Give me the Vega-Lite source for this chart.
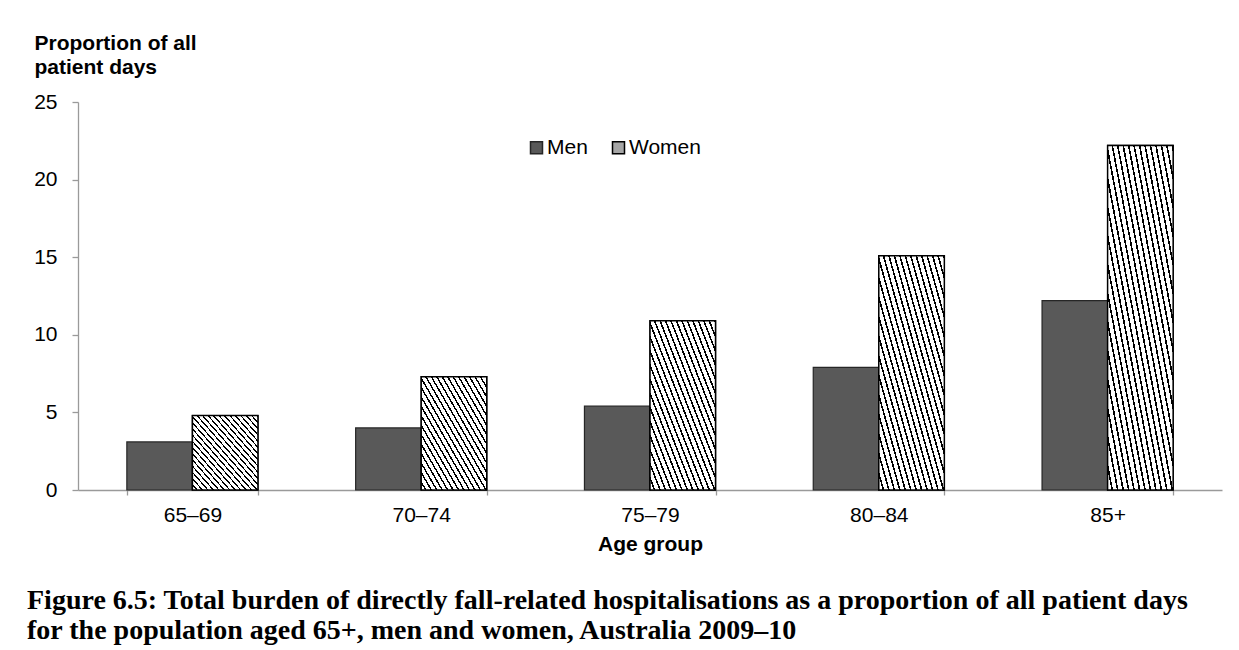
{
  "$schema": "https://vega.github.io/schema/vega-lite/v6.json",
  "width": 1144,
  "height": 388,
  "autosize": {"type": "none"},
  "padding": {"left": 78, "top": 102, "right": 17, "bottom": 160},
  "background": "white",
  "data": {
    "values": [
      {"age": "65–69", "sex": "Men", "value": 3.1},
      {"age": "65–69", "sex": "Women", "value": 4.8},
      {"age": "70–74", "sex": "Men", "value": 4.0},
      {"age": "70–74", "sex": "Women", "value": 7.3},
      {"age": "75–79", "sex": "Men", "value": 5.4},
      {"age": "75–79", "sex": "Women", "value": 10.9},
      {"age": "80–84", "sex": "Men", "value": 7.9},
      {"age": "80–84", "sex": "Women", "value": 15.1},
      {"age": "85+", "sex": "Men", "value": 12.2},
      {"age": "85+", "sex": "Women", "value": 22.2}
    ]
  },
  "title": {
    "text": [
      "Figure 6.5: Total burden of directly fall-related hospitalisations as a proportion of all patient days",
      "for the population aged 65+, men and women, Australia 2009–10"
    ],
    "orient": "bottom",
    "anchor": "start",
    "frame": "group",
    "dx": -51,
    "offset": 33,
    "font": "Liberation Serif",
    "fontSize": 28,
    "fontWeight": "bold",
    "lineHeight": 30,
    "color": "#000000"
  },
  "encoding": {
    "x": {
      "field": "age",
      "type": "nominal",
      "sort": null,
      "scale": {"paddingInner": 0.427, "paddingOuter": 0.2135},
      "axis": {
        "title": "Age group",
        "labelAngle": 0,
        "tickBand": "extent",
        "tickSize": 5,
        "labelPadding": 9,
        "titlePadding": 8
      }
    },
    "xOffset": {
      "field": "sex",
      "type": "nominal",
      "sort": ["Men", "Women"],
      "scale": {"domain": ["Men", "Women"], "paddingInner": 0, "paddingOuter": 0}
    },
    "y": {
      "field": "value",
      "type": "quantitative",
      "scale": {"domain": [0, 25], "nice": false},
      "axis": {
        "values": [0, 5, 10, 15, 20, 25],
        "title": ["Proportion of all", "patient days"],
        "titleAngle": 0,
        "titleAlign": "left",
        "titleBaseline": "alphabetic",
        "titleX": -44,
        "titleY": -53,
        "titleLineHeight": 24,
        "tickSize": 6,
        "labelPadding": 15,
        "grid": false
      }
    }
  },
  "layer": [
    {
      "mark": {"type": "bar", "strokeWidth": 1.2},
      "encoding": {
        "fill": {
          "field": "sex",
          "type": "nominal",
          "scale": {"domain": ["Men", "Women"], "range": ["#595959", "#a6a6a6"]},
          "legend": {
            "title": null,
            "orient": "none",
            "direction": "horizontal",
            "legendX": 448,
            "legendY": 35
          }
        },
        "stroke": {
          "field": "sex",
          "type": "nominal",
          "scale": {"domain": ["Men", "Women"], "range": ["#262626", "#000000"]},
          "legend": {
            "title": null,
            "orient": "none",
            "direction": "horizontal",
            "legendX": 448,
            "legendY": 35
          }
        }
      }
    },
    {
      "transform": [{"filter": "datum.sex === 'Women'"}],
      "mark": {
        "type": "bar",
        "stroke": "#000000",
        "strokeWidth": 1.5,
        "fill": {
          "gradient": "linear",
          "x1": 1, "y1": 0, "x2": 0, "y2": 1,
          "stops": [
            {"offset": 0, "color": "#000000"}, {"offset": 0.0125, "color": "#000000"}, {"offset": 0.0125, "color": "#ffffff"}, {"offset": 0.041667, "color": "#ffffff"},
            {"offset": 0.041667, "color": "#000000"}, {"offset": 0.054167, "color": "#000000"}, {"offset": 0.054167, "color": "#ffffff"}, {"offset": 0.083333, "color": "#ffffff"},
            {"offset": 0.083333, "color": "#000000"}, {"offset": 0.095833, "color": "#000000"}, {"offset": 0.095833, "color": "#ffffff"}, {"offset": 0.125, "color": "#ffffff"},
            {"offset": 0.125, "color": "#000000"}, {"offset": 0.1375, "color": "#000000"}, {"offset": 0.1375, "color": "#ffffff"}, {"offset": 0.166667, "color": "#ffffff"},
            {"offset": 0.166667, "color": "#000000"}, {"offset": 0.179167, "color": "#000000"}, {"offset": 0.179167, "color": "#ffffff"}, {"offset": 0.208333, "color": "#ffffff"},
            {"offset": 0.208333, "color": "#000000"}, {"offset": 0.220833, "color": "#000000"}, {"offset": 0.220833, "color": "#ffffff"}, {"offset": 0.25, "color": "#ffffff"},
            {"offset": 0.25, "color": "#000000"}, {"offset": 0.2625, "color": "#000000"}, {"offset": 0.2625, "color": "#ffffff"}, {"offset": 0.291667, "color": "#ffffff"},
            {"offset": 0.291667, "color": "#000000"}, {"offset": 0.304167, "color": "#000000"}, {"offset": 0.304167, "color": "#ffffff"}, {"offset": 0.333333, "color": "#ffffff"},
            {"offset": 0.333333, "color": "#000000"}, {"offset": 0.345833, "color": "#000000"}, {"offset": 0.345833, "color": "#ffffff"}, {"offset": 0.375, "color": "#ffffff"},
            {"offset": 0.375, "color": "#000000"}, {"offset": 0.3875, "color": "#000000"}, {"offset": 0.3875, "color": "#ffffff"}, {"offset": 0.416667, "color": "#ffffff"},
            {"offset": 0.416667, "color": "#000000"}, {"offset": 0.429167, "color": "#000000"}, {"offset": 0.429167, "color": "#ffffff"}, {"offset": 0.458333, "color": "#ffffff"},
            {"offset": 0.458333, "color": "#000000"}, {"offset": 0.470833, "color": "#000000"}, {"offset": 0.470833, "color": "#ffffff"}, {"offset": 0.5, "color": "#ffffff"},
            {"offset": 0.5, "color": "#000000"}, {"offset": 0.5125, "color": "#000000"}, {"offset": 0.5125, "color": "#ffffff"}, {"offset": 0.541667, "color": "#ffffff"},
            {"offset": 0.541667, "color": "#000000"}, {"offset": 0.554167, "color": "#000000"}, {"offset": 0.554167, "color": "#ffffff"}, {"offset": 0.583333, "color": "#ffffff"},
            {"offset": 0.583333, "color": "#000000"}, {"offset": 0.595833, "color": "#000000"}, {"offset": 0.595833, "color": "#ffffff"}, {"offset": 0.625, "color": "#ffffff"},
            {"offset": 0.625, "color": "#000000"}, {"offset": 0.6375, "color": "#000000"}, {"offset": 0.6375, "color": "#ffffff"}, {"offset": 0.666667, "color": "#ffffff"},
            {"offset": 0.666667, "color": "#000000"}, {"offset": 0.679167, "color": "#000000"}, {"offset": 0.679167, "color": "#ffffff"}, {"offset": 0.708333, "color": "#ffffff"},
            {"offset": 0.708333, "color": "#000000"}, {"offset": 0.720833, "color": "#000000"}, {"offset": 0.720833, "color": "#ffffff"}, {"offset": 0.75, "color": "#ffffff"},
            {"offset": 0.75, "color": "#000000"}, {"offset": 0.7625, "color": "#000000"}, {"offset": 0.7625, "color": "#ffffff"}, {"offset": 0.791667, "color": "#ffffff"},
            {"offset": 0.791667, "color": "#000000"}, {"offset": 0.804167, "color": "#000000"}, {"offset": 0.804167, "color": "#ffffff"}, {"offset": 0.833333, "color": "#ffffff"},
            {"offset": 0.833333, "color": "#000000"}, {"offset": 0.845833, "color": "#000000"}, {"offset": 0.845833, "color": "#ffffff"}, {"offset": 0.875, "color": "#ffffff"},
            {"offset": 0.875, "color": "#000000"}, {"offset": 0.8875, "color": "#000000"}, {"offset": 0.8875, "color": "#ffffff"}, {"offset": 0.916667, "color": "#ffffff"},
            {"offset": 0.916667, "color": "#000000"}, {"offset": 0.929167, "color": "#000000"}, {"offset": 0.929167, "color": "#ffffff"}, {"offset": 0.958333, "color": "#ffffff"},
            {"offset": 0.958333, "color": "#000000"}, {"offset": 0.970833, "color": "#000000"}, {"offset": 0.970833, "color": "#ffffff"}, {"offset": 1, "color": "#ffffff"}
          ]
        }
      }
    }
  ],
  "config": {
    "view": {"stroke": null},
    "font": "Liberation Sans",
    "axis": {
      "labelFont": "Liberation Sans",
      "labelFontSize": 21,
      "labelColor": "#000000",
      "titleFont": "Liberation Sans",
      "titleFontSize": 21,
      "titleFontWeight": "bold",
      "titleColor": "#000000",
      "domainColor": "#9a9a9a",
      "tickColor": "#9a9a9a",
      "domainWidth": 1.3,
      "tickWidth": 1.3
    },
    "legend": {
      "labelFont": "Liberation Sans",
      "labelFontSize": 21,
      "labelColor": "#000000",
      "symbolType": "square",
      "symbolSize": 144,
      "symbolStrokeWidth": 1.5,
      "labelOffset": 0,
      "columnPadding": 20,
      "padding": 0
    }
  }
}
